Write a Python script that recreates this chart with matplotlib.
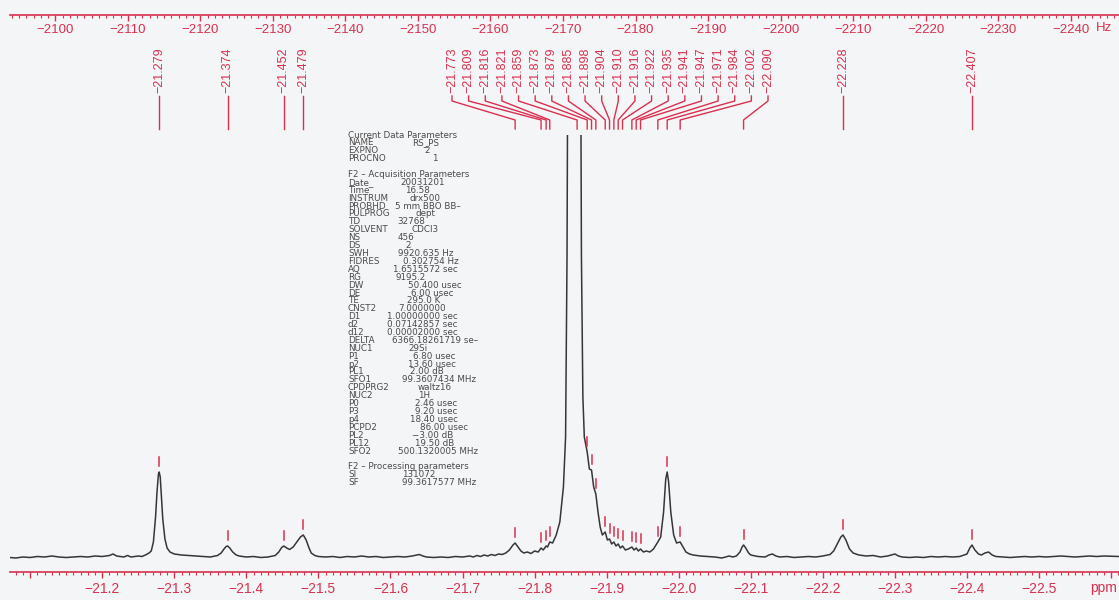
import numpy as np
import matplotlib
matplotlib.use("Agg")
import matplotlib.pyplot as plt
import matplotlib.patches as mpatches
from matplotlib.ticker import MultipleLocator, FuncFormatter
from matplotlib.transforms import blended_transform_factory

plt.rcParams['font.family'] = ['Liberation Sans', 'DejaVu Sans']
plt.rcParams['axes.unicode_minus'] = True

# ---------------- data ----------------
SF = 99.3617577  # MHz, ppm -> Hz

trace_ppm = [
    -21.072, -21.08, -21.09, -21.10, -21.11, -21.12, -21.13, -21.14, -21.15, -21.16,
    -21.17, -21.18, -21.19, -21.20, -21.21, -21.215, -21.22, -21.23, -21.235, -21.24,
    -21.25, -21.255, -21.26, -21.265, -21.268, -21.271, -21.274, -21.276, -21.278, -21.279,
    -21.2805, -21.282, -21.284, -21.287, -21.29, -21.294, -21.30, -21.305, -21.31, -21.32,
    -21.33, -21.34, -21.35, -21.36, -21.365, -21.369, -21.372, -21.374, -21.377, -21.381,
    -21.386, -21.39, -21.40, -21.41, -21.42, -21.43, -21.44, -21.445, -21.449, -21.452,
    -21.456, -21.46, -21.465, -21.47, -21.475, -21.479, -21.483, -21.487, -21.49, -21.495,
    -21.50, -21.51, -21.52, -21.53, -21.54, -21.55, -21.56, -21.57, -21.58, -21.59,
    -21.60, -21.61, -21.62, -21.63, -21.64, -21.645, -21.65, -21.66, -21.67, -21.68,
    -21.69, -21.70, -21.71, -21.715, -21.72, -21.725, -21.73, -21.735, -21.74, -21.745,
    -21.75, -21.755, -21.76, -21.765, -21.77, -21.773, -21.777, -21.781, -21.785, -21.79,
    -21.795, -21.80, -21.805, -21.809, -21.812, -21.816, -21.818, -21.821, -21.825, -21.83,
    -21.835, -21.84, -21.843, -21.845, -21.847, -21.85, -21.855, -21.86, -21.863, -21.865,
    -21.867, -21.869, -21.873, -21.876, -21.879, -21.882, -21.885, -21.888, -21.891, -21.894,
    -21.898, -21.901, -21.904, -21.907, -21.91, -21.913, -21.916, -21.919, -21.922, -21.926,
    -21.93, -21.935, -21.938, -21.941, -21.944, -21.947, -21.951, -21.955, -21.96, -21.965,
    -21.971, -21.975, -21.979, -21.982, -21.984, -21.986, -21.989, -21.993, -21.997, -22.002,
    -22.006, -22.01, -22.015, -22.02, -22.03, -22.04, -22.05, -22.06, -22.065, -22.07,
    -22.075, -22.08, -22.085, -22.088, -22.09, -22.093, -22.097, -22.10, -22.11, -22.12,
    -22.125, -22.13, -22.135, -22.14, -22.15, -22.16, -22.17, -22.18, -22.19, -22.20,
    -22.21, -22.215, -22.22, -22.225, -22.228, -22.232, -22.237, -22.242, -22.25, -22.26,
    -22.27, -22.28, -22.29, -22.30, -22.305, -22.31, -22.32, -22.33, -22.34, -22.35,
    -22.36, -22.37, -22.38, -22.39, -22.40, -22.404, -22.407, -22.411, -22.416, -22.42,
    -22.425, -22.43, -22.435, -22.44, -22.45, -22.46, -22.47, -22.48, -22.49, -22.50,
    -22.51, -22.52, -22.53, -22.54, -22.55, -22.56, -22.57, -22.58, -22.59, -22.611,
]
trace_int = [
    -0.5, -1, 0, -0.5, 0.5, 0, 1, 0, -0.5, 0,
    0.5, 0, 1, 0.5, 1.5, 3, 1, 0, 1.5, 0,
    1, 0.5, 2, 4, 6, 15, 40, 65, 83, 85,
    80, 62, 38, 18, 9, 5, 3, 2.5, 2, 1.5,
    1, 0.5, 0, 1.5, 4, 8, 10.5, 11, 9, 5,
    2, 1, 0, 0.5, -0.5, 0, 1.5, 5, 9.5, 11,
    9, 7.5, 10, 15, 20, 22, 17, 9, 4, 1.5,
    0.5, 0, 0.5, -0.5, 0.5, 0, 1, 0, 0.5, -0.5,
    0, 0.5, 0, 1, 2.5, 1, 0, -0.5, 0, -0.5,
    0.5, 0, 1, 0, 1.5, 0.5, 2, 1, 2.5, 1.5,
    3, 2.5, 4, 7, 12, 14, 10, 6, 4, 5,
    3.5, 6, 5, 9, 7, 11, 10, 15, 14, 22,
    35, 70, 120, 300, 700, 1200, 1500, 1300, 700, 300,
    160, 120, 105, 88, 87, 70, 63, 45, 30, 22,
    25, 17, 18, 13, 15, 11, 13, 9, 11, 7,
    8, 10, 7, 9, 6, 8, 5, 6, 5, 8,
    15, 20, 45, 78, 85, 75, 45, 22, 14, 15,
    10, 5, 3, 2, 1, 0.5, 0, -1, 0, 1,
    0, 1, 5, 10, 12, 9, 4, 2, 0.5, 0,
    2, 3, 1, 0, 0.5, -0.5, 0, 0.5, 0, 1,
    2.5, 6, 13, 20, 22, 17, 8, 4, 2, 1,
    1.5, 0, 1, 3, 1, 0, -0.5, 0, -0.5, 0.5,
    0, 0.5, 0, 0.5, 3, 9, 12, 7, 3, 2,
    4, 5, 2, 0.5, 0, -0.5, 0, 0.5, 0, 0.5,
    0, 0.5, 1, 0.5, 0, 0.5, 1, 0.5, 1, 0.5,
]
assert len(trace_ppm) == len(trace_int)

peak_ppm = [-21.279, -21.374, -21.452, -21.479, -21.773, -21.809, -21.816, -21.821,
            -21.859, -21.873, -21.879, -21.885, -21.898, -21.904, -21.910, -21.916,
            -21.922, -21.935, -21.941, -21.947, -21.971, -21.984, -22.002, -22.090,
            -22.228, -22.407]
peak_int = [85, 11, 11, 22, 14, 9, 11, 15,
            1500, 105, 87, 63, 25, 18, 15, 13,
            11, 10, 9, 8, 15, 85, 15, 12,
            22, 12]

param_names = ["Current Data Parameters", "NAME", "EXPNO", "PROCNO", "",
               "F2 \u2013 Acquisition Parameters", "Date_", "Time", "INSTRUM", "PROBHD",
               "PULPROG", "TD", "SOLVENT", "NS", "DS", "SWH", "FIDRES", "AQ", "RG", "DW",
               "DE", "TE", "CNST2", "D1", "d2", "d12", "DELTA", "NUC1", "P1", "p2", "PL1",
               "SFO1", "CPDPRG2", "NUC2", "P0", "P3", "p4", "PCPD2", "PL2", "PL12", "SFO2",
               "", "F2 \u2013 Processing parameters", "SI", "SF"]
param_values = ["", "RS_PS", "2", "1", "",
                "", "20031201", "16.58", "drx500", "5 mm BBO BB\u2013",
                "dept", "32768", "CDCl3", "456", "2", "9920.635 Hz", "0.302754 Hz",
                "1.6515572 sec", "9195.2", "50.400 usec",
                "6.00 usec", "295.0 K", "7.0000000", "1.00000000 sec", "0.07142857 sec",
                "0.00002000 sec", "6366.18261719 se\u2013", "29Si", "6.80 usec", "13.60 usec",
                "2.00 dB", "99.3607434 MHz", "waltz16", "1H", "2.46 usec", "9.20 usec",
                "18.40 usec", "86.00 usec", "\u22123.00 dB", "19.50 dB", "500.1320005 MHz",
                "", "", "131072", "99.3617577 MHz"]

# ---------------- layout / style ----------------
value_x_px = [0, 412, 424, 432, 0, 0, 400, 405, 410, 395, 416, 397, 412, 398, 405, 398,
              403, 393, 396, 408, 411, 407, 398, 387, 387, 387, 392, 408, 413, 408, 410,
              402, 418, 418, 415, 415, 410, 420, 412, 415, 398, 0, 0, 402, 402]

RED = '#d9304e'
TRACE = '#363636'
TEXTGRAY = '#4a4a4a'
BG = '#f4f5f7'

W, H = 1119, 600
L, R, T, B = 10, 1119, 15, 572
fig = plt.figure(figsize=(W / 100, H / 100), dpi=100, facecolor=BG)
ax = fig.add_axes([L / W, 1 - B / H, (R - L) / W, (B - T) / H])
ax.set_facecolor(BG)
XL = (-21.072, -22.611)
ax.set_xlim(*XL)
ax.set_ylim(-15, 542)

for s in ('left', 'right', 'top'):
    ax.spines[s].set_visible(False)
ax.spines['bottom'].set_color(RED)
ax.spines['bottom'].set_linewidth(1.2)
ax.set_yticks([])


def fmt_ppm(v, pos):
    if v > -21.15 or v < -22.55:
        return ''
    return f"{v:.1f}".replace('-', '\u2212')


ax.xaxis.set_major_locator(MultipleLocator(0.1))
ax.xaxis.set_minor_locator(MultipleLocator(0.01))
ax.xaxis.set_major_formatter(FuncFormatter(fmt_ppm))
ax.tick_params(axis='x', which='major', direction='out', length=4, width=1.0,
               colors=RED, labelsize=10, pad=3)
ax.tick_params(axis='x', which='minor', direction='out', length=2, width=0.8, colors=RED)
fig.text(1104 / W, 1 - 588 / H, 'ppm', color=RED, fontsize=10, ha='center', va='center')

HZ_LO, HZ_HI = XL[1] * SF, XL[0] * SF


def fmt_hz(h, pos):
    if h > -2095 or h < -2245:
        return ''
    return f"{int(round(h))}".replace('-', '\u2212')


sec = ax.secondary_xaxis('top', functions=(lambda p: p * SF, lambda h: h / SF))
sec.spines['top'].set_color(RED)
sec.spines['top'].set_linewidth(1.2)
sec.xaxis.set_major_locator(MultipleLocator(10))
sec.xaxis.set_minor_locator(MultipleLocator(1))
sec.xaxis.set_major_formatter(FuncFormatter(fmt_hz))
sec.tick_params(which='major', direction='in', length=4, width=1.0, colors=RED,
                labelsize=9.5, pad=-15)
sec.tick_params(which='minor', direction='in', length=2, width=0.8, colors=RED)
fig.text(1104 / W, 1 - 28 / H, 'Hz', color=RED, fontsize=9.5, ha='center', va='center')

# clip region for the spectrum (off-scale peak cut at the plot top)
clip = mpatches.Rectangle((0, 0), 1, (B - 135) / (B - T), transform=ax.transAxes)

line, = ax.plot(trace_ppm, trace_int, color=TRACE, lw=1.1)
line.set_clip_path(clip)

for p, h in zip(peak_ppm, peak_int):
    m, = ax.plot([p, p], [h + 6, h + 15], color=RED, lw=1.1)
    m.set_clip_path(clip)

# peak labels with connectors
blend = blended_transform_factory(ax.transData, ax.transAxes)


def yf(ypix):
    return (B - ypix) / (B - T)


def ppm_at(xpix):
    return XL[0] + (xpix - L) / (R - L) * (XL[1] - XL[0])


label_x = list(peak_ppm)
cluster_idx = list(range(4, 24))
spread = np.linspace(ppm_at(452), ppm_at(768), len(cluster_idx))
for k, i in enumerate(cluster_idx):
    label_x[i] = spread[k]

for p, lx in zip(peak_ppm, label_x):
    ax.text(lx, yf(93), f"{p:.3f}".replace('-', '\u2212'), transform=blend,
            rotation=90, ha='center', va='bottom', fontsize=9, color=RED)
    if abs(lx - p) < 1e-9:
        ax.plot([p, p], [yf(96), yf(129)], transform=blend, color=RED, lw=1.0,
                clip_on=False)
    else:
        ax.plot([lx, lx, p, p], [yf(96), yf(101), yf(120), yf(129)], transform=blend,
                color=RED, lw=1.0, clip_on=False)

# parameter block
for i, (nm, val) in enumerate(zip(param_names, param_values)):
    ypix = 135 + i * 7.9
    if nm:
        fig.text(348 / W, 1 - ypix / H, nm, fontsize=6.3, color=TEXTGRAY,
                 family='DejaVu Sans', ha='left', va='center')
    if val:
        fig.text(value_x_px[i] / W, 1 - ypix / H, val, fontsize=6.3, color=TEXTGRAY,
                 family='DejaVu Sans', ha='left', va='center')

fig.savefig('out.png', dpi=100, facecolor=BG)
